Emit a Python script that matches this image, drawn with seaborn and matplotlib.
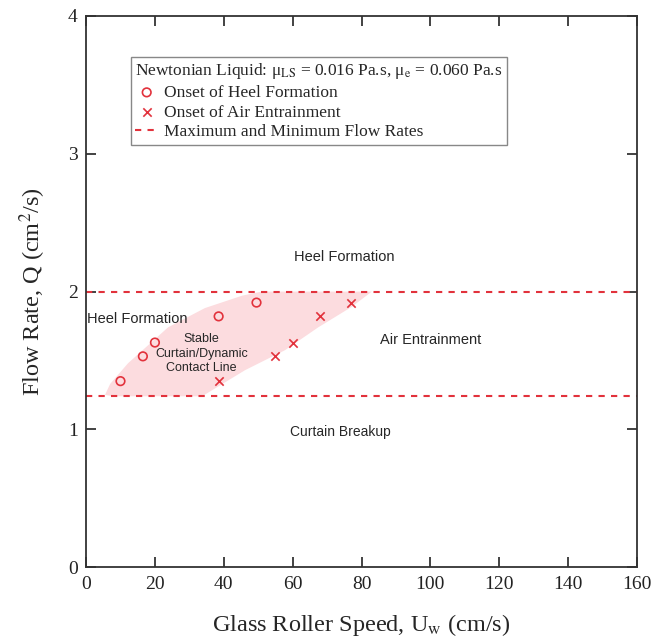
import matplotlib
matplotlib.use("Agg")
import matplotlib.pyplot as plt
import seaborn as sns
import pandas as pd

# Data
heel_speed = [10, 16.5, 20, 38.5, 49.5]
heel_flow = [1.35, 1.53, 1.63, 1.82, 1.92]
air_speed = [38.5, 55, 60, 68, 77]
air_flow = [1.35, 1.53, 1.63, 1.82, 1.92]
q_max = 2.0
q_min = 1.24
# stable window outline (speed, flow)
window_speed = [5.5, 7.0, 12.2, 23.8, 34.5, 45.3, 51.0, 83.0, 77.2, 67.4, 57.8, 46.2, 38.3, 33.7, 8.0]
window_flow = [1.25, 1.33, 1.48, 1.74, 1.88, 1.97, 2.0, 2.0, 1.89, 1.74, 1.575, 1.43, 1.31, 1.24, 1.24]
x_ticks = [0, 20, 40, 60, 80, 100, 120, 140, 160]
y_ticks = [0, 1, 2, 3, 4]

sns.set_theme(style="ticks")
plt.rcParams["font.family"] = ["Liberation Serif", "DejaVu Serif"]
plt.rcParams["mathtext.fontset"] = "stix"

RED = "#e2323c"

fig = plt.figure(figsize=(6.52, 6.38), dpi=100)
ax = fig.add_axes([0.132, 0.111, 0.845, 0.864])

ax.fill(window_speed, window_flow, color="#fcdcdf", lw=0, zorder=1)

ax.axhline(q_max, color=RED, ls=(0, (3, 3)), lw=1.5, zorder=2)
ax.axhline(q_min, color=RED, ls=(0, (3, 3)), lw=1.5, zorder=2,
           label="Maximum and Minimum Flow Rates")

df_h = pd.DataFrame({"U": heel_speed, "Q": heel_flow})
df_a = pd.DataFrame({"U": air_speed, "Q": air_flow})
sns.scatterplot(data=df_h, x="U", y="Q", ax=ax, marker="o", s=38,
                facecolor="none", edgecolor=RED, linewidth=1.2, zorder=3,
                label="Onset of Heel Formation")
sns.scatterplot(data=df_a, x="U", y="Q", ax=ax, marker="x", s=36,
                color=RED, linewidth=1.2, zorder=3,
                label="Onset of Air Entrainment")

ax.set_xlim(0, 160)
ax.set_ylim(0, 4)
ax.set_xticks(x_ticks)
ax.set_yticks(y_ticks)
ax.tick_params(direction="in", length=7, width=1.2, top=True, right=True,
               labelsize=14, colors="#222222", pad=6)
for s in ax.spines.values():
    s.set_linewidth(1.3)
    s.set_color("#333333")

ax.set_xlabel(r"Glass Roller Speed, U$_{\rm w}$ (cm/s)", fontsize=17.5, labelpad=14)
ax.set_ylabel(r"Flow Rate, Q (cm$^{2}$/s)", fontsize=17.5, labelpad=14)

# legend with order: heel, air, dashed
h, l = ax.get_legend_handles_labels()
order = [l.index("Onset of Heel Formation"), l.index("Onset of Air Entrainment"),
         l.index("Maximum and Minimum Flow Rates")]
leg = ax.legend([h[i] for i in order], [l[i] for i in order],
                title="Newtonian Liquid: μ$_{\\rm LS}$ = 0.016 Pa.s, μ$_{\\rm e}$ = 0.060 Pa.s",
                loc="upper left", bbox_to_anchor=(0.0817, 0.9256), borderaxespad=0,
                fontsize=12.5, title_fontsize=12.5, frameon=True, fancybox=False,
                edgecolor="#888888", framealpha=1, handlelength=1.3,
                handletextpad=0.35, borderpad=0.25, labelspacing=0.2,
                alignment="left")
leg.get_frame().set_linewidth(1.0)

sans = ["Liberation Sans", "DejaVu Sans"]
ax.text(75, 2.25, "Heel Formation", family=sans, fontsize=10.5, ha="center", va="center")
ax.text(15, 1.8, "Heel Formation", family=sans, fontsize=10.5, ha="center", va="center")
ax.text(100, 1.65, "Air Entrainment", family=sans, fontsize=10.5, ha="center", va="center")
ax.text(74, 0.98, "Curtain Breakup", family=sans, fontsize=10, ha="center", va="center")
ax.text(33.5, 1.55, "Stable\nCurtain/Dynamic\nContact Line", family=sans, fontsize=9,
        ha="center", va="center", linespacing=1.3)

fig.savefig("out.png", dpi=100)
